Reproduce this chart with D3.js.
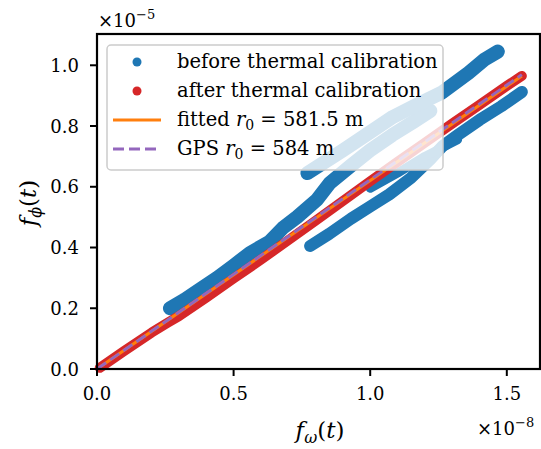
<!DOCTYPE html>
<html><head><meta charset="utf-8">
<script src="https://cdnjs.cloudflare.com/ajax/libs/d3/7.8.5/d3.min.js"></script>
<style>body{margin:0;background:#fff}svg{display:block}text{font-family:"DejaVu Serif","Liberation Serif",serif;fill:#000}</style>
</head><body><svg id="c" width="541" height="449"></svg>
<script>
// x in units of 1e-8, y in units of 1e-5
const xTicks = [0.0, 0.5, 1.0, 1.5];
const yTicks = [0.0, 0.2, 0.4, 0.6, 0.8, 1.0];
const xTickLabels = ["0.0","0.5","1.0","1.5"];
const yTickLabels = ["0.0","0.2","0.4","0.6","0.8","1.0"];
// "before thermal calibration" tracks (dense point trajectories)
const beforeU1 = [[0.267,0.200],[0.32,0.228],[0.377,0.262],[0.44,0.300],[0.498,0.339],[0.56,0.382],[0.633,0.42],[0.681,0.465],[0.732,0.50],[0.805,0.557],[0.853,0.613],[0.93,0.67],[1.0,0.72],[1.08,0.77],[1.16,0.815],[1.22,0.85]];
const beforeU2 = [[0.77,0.645],[0.90,0.72],[1.00,0.78],[1.083,0.83],[1.16,0.865],[1.262,0.91],[1.36,0.975],[1.42,1.02],[1.467,1.045]];
const beforeL1 = [[0.78,0.405],[0.85,0.445],[0.93,0.495],[1.00,0.535],[1.07,0.575],[1.15,0.63],[1.22,0.69],[1.266,0.735],[1.32,0.77],[1.40,0.82],[1.48,0.865],[1.555,0.912]];
const beforeL2 = [[1.0,0.595],[1.1,0.645],[1.2,0.70],[1.32,0.755]];
// "after thermal calibration" track
const afterCal = [[0.01,0.004],[0.1,0.06],[0.2,0.12],[0.26,0.153],[0.3,0.174],[0.4,0.235],[0.5,0.298],[0.6,0.36],[0.7,0.424],[0.8,0.488],[0.9,0.553],[1.0,0.618],[1.1,0.682],[1.2,0.745],[1.3,0.808],[1.4,0.87],[1.5,0.932],[1.555,0.965]];
// fitted and GPS lines
const lineX = [0, 1.555];
const fitY = [0, 0.9650];
const gpsY = [0, 0.9692];
const legendLabels = ["before thermal calibration","after thermal calibration"];

const svg = d3.select("#c");
const L=97, R=540, T=34, B=369;
const x = d3.scaleLinear().domain([0,1.6215]).range([L,R]);
const y = d3.scaleLinear().domain([0,1.103]).range([B,T]);
const line = d3.line().x(d=>x(d[0])).y(d=>y(d[1]));
const plot = svg.append("g");
const C = {blue:"#1f77b4", red:"#d62728", orange:"#ff7f0e", purple:"#9467bd"};

[[beforeU1,14],[beforeU2,14],[beforeL1,12],[beforeL2,9]].forEach(([d,w])=>{
  plot.append("path").attr("d",line(d)).attr("fill","none").attr("stroke",C.blue)
    .attr("stroke-width",w).attr("stroke-linecap","round").attr("stroke-linejoin","round");
});
plot.append("path").attr("d",line(afterCal)).attr("fill","none").attr("stroke",C.red)
  .attr("stroke-width",10).attr("stroke-linecap","round").attr("stroke-linejoin","round");
const fitPts = lineX.map((v,i)=>[v,fitY[i]]);
const gpsPts = lineX.map((v,i)=>[v,gpsY[i]]);
plot.append("path").attr("d",line(fitPts)).attr("stroke",C.orange).attr("stroke-width",3).attr("fill","none");
plot.append("path").attr("d",line(gpsPts)).attr("stroke",C.purple).attr("stroke-width",3).attr("fill","none")
  .attr("stroke-dasharray","11,5");

// legend
const lg = svg.append("g");
lg.append("rect").attr("x",107).attr("y",45).attr("width",336).attr("height",125).attr("rx",4)
  .attr("fill","white").attr("fill-opacity",0.8).attr("stroke","#cccccc").attr("stroke-width",1.5);
lg.append("circle").attr("cx",137).attr("cy",62).attr("r",4.5).attr("fill",C.blue);
lg.append("circle").attr("cx",137).attr("cy",91).attr("r",4.5).attr("fill",C.red);
lg.append("line").attr("x1",113).attr("x2",161).attr("y1",120).attr("y2",120).attr("stroke",C.orange).attr("stroke-width",3);
lg.append("line").attr("x1",113).attr("x2",161).attr("y1",149).attr("y2",149).attr("stroke",C.purple).attr("stroke-width",3).attr("stroke-dasharray","11,5");
const fs = 19.5;
lg.append("text").attr("x",177).attr("y",68).attr("font-size",fs).text(legendLabels[0]);
lg.append("text").attr("x",177).attr("y",97).attr("font-size",fs).text(legendLabels[1]);
const t3 = lg.append("text").attr("x",177).attr("y",126).attr("font-size",fs);
t3.append("tspan").text("fitted ");
t3.append("tspan").attr("font-style","italic").text("r");
t3.append("tspan").attr("font-size",14).attr("dy",4).text("0");
t3.append("tspan").attr("dy",-4).text(" = 581.5 m");
const t4 = lg.append("text").attr("x",177).attr("y",155).attr("font-size",fs);
t4.append("tspan").text("GPS ");
t4.append("tspan").attr("font-style","italic").text("r");
t4.append("tspan").attr("font-size",14).attr("dy",4).text("0");
t4.append("tspan").attr("dy",-4).text(" = 584 m");

// axes
const ax = svg.append("g");
ax.append("rect").attr("x",L).attr("y",T).attr("width",R-L).attr("height",B-T).attr("fill","none").attr("stroke","#000").attr("stroke-width",2.2);
xTicks.forEach((t,i)=>{
  ax.append("line").attr("x1",x(t)).attr("x2",x(t)).attr("y1",B).attr("y2",B+7).attr("stroke","#000").attr("stroke-width",2);
  ax.append("text").attr("x",x(t)).attr("y",400).attr("text-anchor","middle").attr("font-size",18).text(xTickLabels[i]);
});
yTicks.forEach((t,i)=>{
  ax.append("line").attr("x1",L-7).attr("x2",L).attr("y1",y(t)).attr("y2",y(t)).attr("stroke","#000").attr("stroke-width",2);
  ax.append("text").attr("x",79).attr("y",y(t)+6.5).attr("text-anchor","end").attr("font-size",18).text(yTickLabels[i]);
});
// offset texts
const o1 = ax.append("text").attr("x",98).attr("y",27).attr("font-size",18);
o1.append("tspan").text("×10");
o1.append("tspan").attr("font-size",13).attr("dy",-8).text("−5");
const o2 = ax.append("text").attr("x",477).attr("y",435).attr("font-size",18);
o2.append("tspan").text("×10");
o2.append("tspan").attr("font-size",13).attr("dy",-8).text("−8");
// axis labels
const xl = ax.append("text").attr("x",320).attr("y",438).attr("text-anchor","middle").attr("font-size",23);
xl.append("tspan").attr("font-style","italic").text("f");
xl.append("tspan").attr("font-style","italic").attr("font-size",16).attr("dy",5).text("ω");
xl.append("tspan").attr("dy",-5).text("(");
xl.append("tspan").attr("font-style","italic").text("t");
xl.append("tspan").text(")");
const yl = ax.append("text").attr("transform","translate(36,203) rotate(-90)").attr("text-anchor","middle").attr("font-size",23);
yl.append("tspan").attr("font-style","italic").text("f");
yl.append("tspan").attr("font-style","italic").attr("font-size",16).attr("dy",5).text("ϕ");
yl.append("tspan").attr("dy",-5).text("(");
yl.append("tspan").attr("font-style","italic").text("t");
yl.append("tspan").text(")");
</script></body></html>
